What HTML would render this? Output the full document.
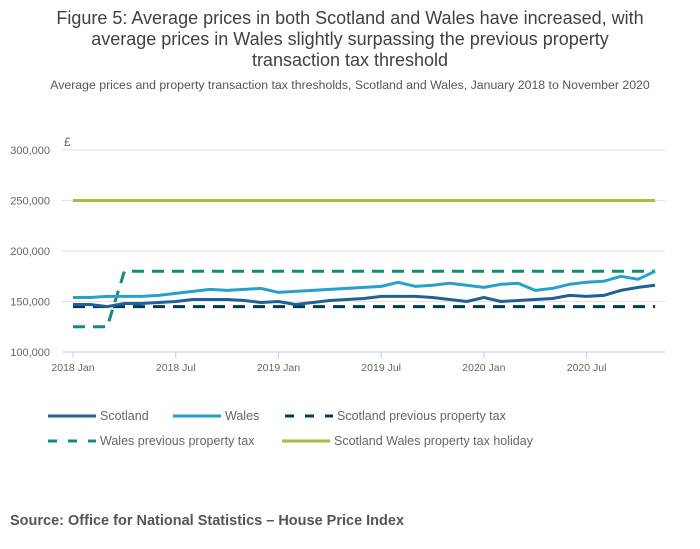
<!DOCTYPE html>
<html><head><meta charset="utf-8"><style>
body{margin:0;background:#fff;font-family:"Liberation Sans",sans-serif;}
#wrap{position:relative;width:700px;height:549px;}
.t{position:absolute;left:0;width:700px;text-align:center;color:#414042;}
</style></head><body>
<div id="wrap">
<div class="t" style="top:8px;font-size:18px;line-height:21px;">Figure 5: Average prices in both Scotland and Wales have increased, with<br>average prices in Wales slightly surpassing the previous property<br>transaction tax threshold</div>
<div class="t" style="top:78px;font-size:12.3px;color:#555;">Average prices and property transaction tax thresholds, Scotland and Wales, January 2018 to November 2020</div>
<svg id="c" width="700" height="549" style="position:absolute;left:0;top:0"></svg>
<div style="position:absolute;left:10px;top:513px;font-size:14.5px;font-weight:bold;color:#555;">Source: Office for National Statistics – House Price Index</div>
</div>
<script>
const months = 35;
const xTickLabels = ["2018 Jan","2018 Jul","2019 Jan","2019 Jul","2020 Jan","2020 Jul"];
const xTickIdx = [0,6,12,18,24,30];
const yTicks = [100000,150000,200000,250000,300000];
const scotland = [147,147,145,148,148,149,150,152,152,152,151,149,150,147,149,151,152,153,155,155,155,154,152,150,154,150,151,152,153,156,155,156,161,164,166];
const wales = [154,154,155,155,155,156,158,160,162,161,162,163,159,160,161,162,163,164,165,169,165,166,168,166,164,167,168,161,163,167,169,170,175,172,180];
const scotlandTax = 145;
const walesTaxBefore = 125, walesTaxAfter = 180, walesTaxChangeIdx = 3;
const holiday = 250;

const svg = document.getElementById('c');
const NS = 'http://www.w3.org/2000/svg';
const x = i => 73 + i * 17.12;
const y = v => 352 - (v - 100000) * 202 / 200000;
function mk(tag, attrs, parent){const e=document.createElementNS(NS,tag);for(const k in attrs)e.setAttribute(k,attrs[k]);(parent||svg).appendChild(e);return e;}

yTicks.forEach(v=>{
  const g = mk('line',{x1:62,x2:665,y1:y(v),y2:y(v),stroke:v===100000?'#bcd0e6':'#e2e2e2','stroke-width':1});
  
  
  const t = mk('text',{x:50,y:y(v)+4,'text-anchor':'end','font-size':11,fill:'#666','font-family':'Liberation Sans, sans-serif'});
  t.textContent = v.toLocaleString('en-GB');
  
  
});
const cur = mk('text',{x:64,y:146,'font-size':12,fill:'#666'});
cur.textContent='£';


xTickIdx.forEach((m,k)=>{
  const l = mk('line',{x1:x(m),x2:x(m),y1:352,y2:358,stroke:'#bcd0e6'});
  
  
  const t = mk('text',{x:x(m),y:371,'text-anchor':'middle','font-size':10.5,fill:'#666'});
  t.textContent = xTickLabels[k];
  
  
});
function line(pts,color,dash,name){
  const p = mk('polyline',{points:pts.map(q=>q[0].toFixed(1)+','+q[1].toFixed(1)).join(' '),fill:'none',stroke:color,'stroke-width':3,'stroke-dasharray':dash||'','stroke-linejoin':'round'});
  
  
}
line([[x(0),y(holiday*1000)],[x(months-1),y(holiday*1000)]],'#a8bd3a','', 'holiday-line');
line([[x(0),y(scotlandTax*1000)],[x(months-1),y(scotlandTax*1000)]],'#003c57','12,8','scotland-tax-line');
line([[x(0),y(walesTaxBefore*1000)],[x(walesTaxChangeIdx-1),y(walesTaxBefore*1000)],[x(walesTaxChangeIdx),y(walesTaxAfter*1000)],[x(months-1),y(walesTaxAfter*1000)]],'#118c7b','12,8','wales-tax-line');
line(scotland.map((v,i)=>[x(i),y(v*1000)]),'#206095','','scotland-line');
line(wales.map((v,i)=>[x(i),y(v*1000)]),'#27a0cc','','wales-line');

const legend = [
 [48,416,'#206095','','Scotland'],[173,416,'#27a0cc','','Wales'],[285,416,'#003c57','9,11','Scotland previous property tax'],
 [48,441,'#118c7b','9,11','Wales previous property tax'],[282,441,'#a8bd3a','','Scotland Wales property tax holiday']];
legend.forEach(L=>{
  const g = mk('g',{});
  
  
  mk('line',{x1:L[0],x2:L[0]+48,y1:L[1],y2:L[1],stroke:L[2],'stroke-width':3,'stroke-dasharray':L[3]},g);
  const t = mk('text',{x:L[0]+52,y:L[1]+4,'font-size':12.5,fill:'#666'},g);
  t.textContent = L[4];
});
</script>
</body></html>
